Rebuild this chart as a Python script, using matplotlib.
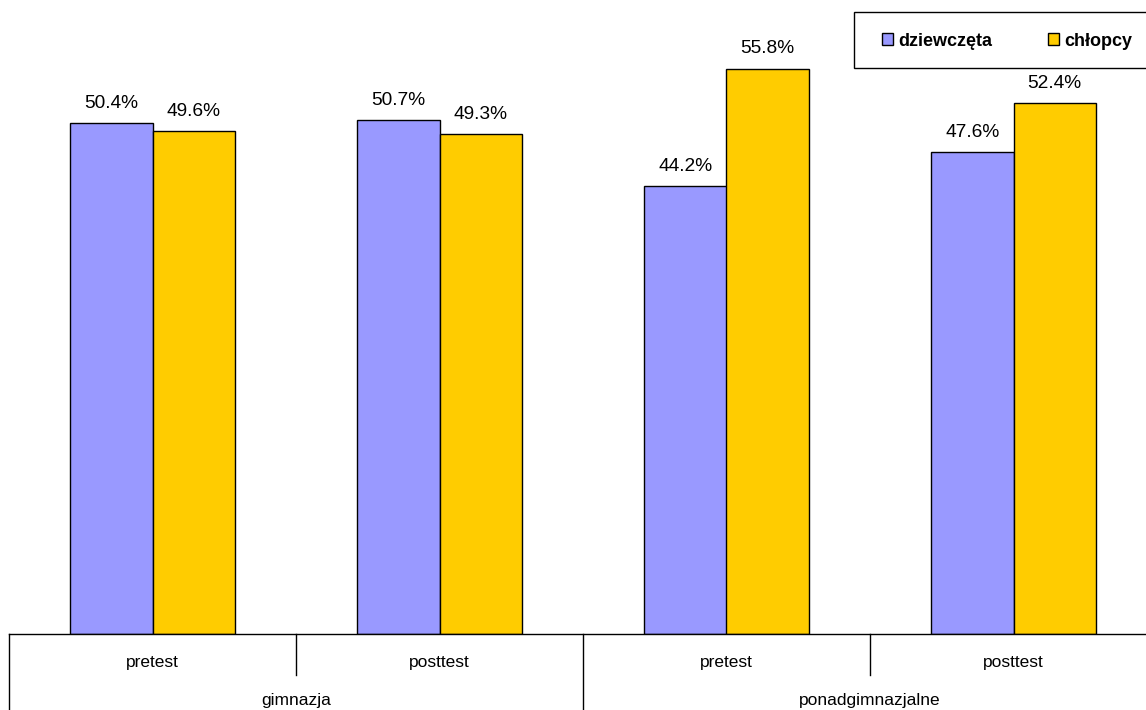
import matplotlib
matplotlib.use('Agg')
import matplotlib.pyplot as plt
from matplotlib.patches import Rectangle
import numpy as np

plt.rcParams['font.family'] = ['Liberation Sans', 'DejaVu Sans']

# data
groups = ['gimnazja', 'ponadgimnazjalne']
tests = ['pretest', 'posttest', 'pretest', 'posttest']
series_names = ['dziewczęta', 'chłopcy']
girls = [50.4, 50.7, 44.2, 47.6]
boys = [49.6, 49.3, 55.8, 52.4]

colors = ['#9999FF', '#FFCC00']

fig = plt.figure(figsize=(11.46, 7.10), dpi=100)
# axes runs a bit past the right edge, like the original
ax = fig.add_axes([9 / 1146, 76 / 710, 1148 / 1146, 608 / 710])

x = np.arange(len(tests))
w = 0.286
b1 = ax.bar(x - w / 2, girls, w, color=colors[0], edgecolor='black', linewidth=1, label=series_names[0])
b2 = ax.bar(x + w / 2, boys, w, color=colors[1], edgecolor='black', linewidth=1, label=series_names[1])

for bars, vals in ((b1, girls), (b2, boys)):
    for r, v in zip(bars, vals):
        ax.text(r.get_x() + r.get_width() / 2, v + 1.1, '{:.1f}%'.format(v),
                ha='center', va='bottom', fontsize=13.8)

ax.set_xlim(-0.5, len(tests) - 0.5)
ax.set_ylim(0, 60)
ax.set_yticks([])
ax.set_xticks([])
for s in ['top', 'right', 'left']:
    ax.spines[s].set_visible(False)
ax.spines['bottom'].set_linewidth(1)

# category axis: short separators between tests, long ones between groups
tr = ax.get_xaxis_transform()
short = -41 / 608
full = -80 / 608
for i in range(len(tests) + 1):
    xpos = i - 0.5
    y2 = full if i % 2 == 0 else short
    ax.plot([xpos, xpos], [0, y2], color='black', lw=1, transform=tr, clip_on=False)

for i, t in enumerate(tests):
    ax.text(i, -29 / 608, t, transform=tr, ha='center', va='center', fontsize=12.5)
for g, name in enumerate(groups):
    ax.text(2 * g + 0.5, -67 / 608, name, transform=tr, ha='center', va='center', fontsize=12.5)

# legend box, cut off by the right edge
fig.patches.append(Rectangle((854 / 1146, 1 - 68 / 710), 320 / 1146, 56 / 710,
                             transform=fig.transFigure, facecolor='white',
                             edgecolor='black', linewidth=1, zorder=5))
leg = fig.legend(handles=[b1, b2], loc='center left', bbox_to_anchor=(882 / 1146, 1 - 41 / 710),
                 ncol=2, frameon=False, prop={'weight': 'bold', 'size': 13},
                 handlelength=0.6, handleheight=0.6, handletextpad=0.3, columnspacing=3.1,
                 borderpad=0, borderaxespad=0)
leg.set_zorder(6)

fig.savefig('out.png', dpi=100)
